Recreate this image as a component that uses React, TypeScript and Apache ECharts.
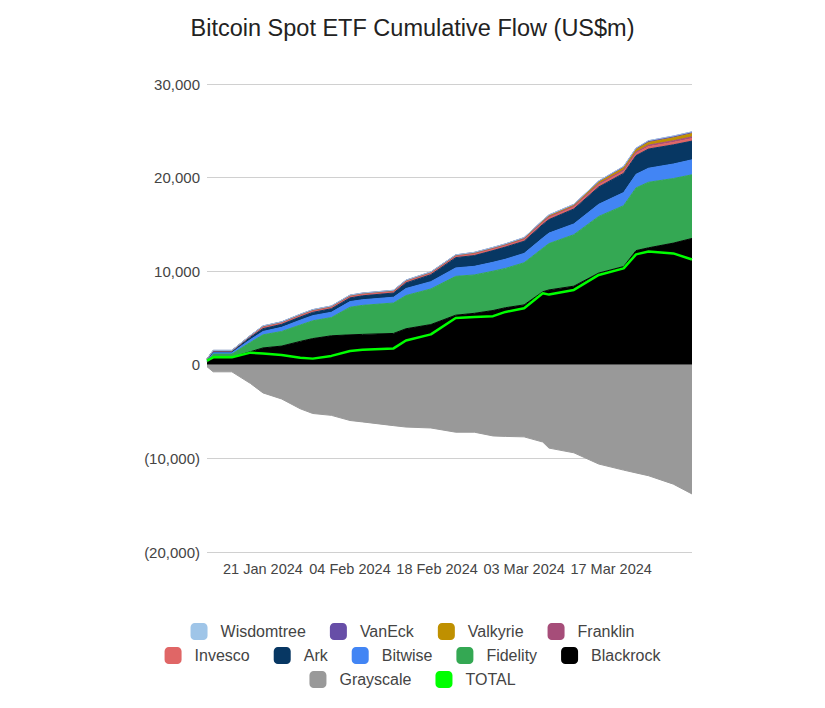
import React, { useEffect, useRef } from "react";
import * as echarts from "echarts";

const dates = [
  "2024-01-12", "2024-01-13", "2024-01-16", "2024-01-19", "2024-01-21", "2024-01-24", "2024-01-27",
  "2024-01-29", "2024-02-01", "2024-02-04", "2024-02-06", "2024-02-11", "2024-02-13", "2024-02-17",
  "2024-02-21", "2024-02-24", "2024-02-27", "2024-02-29", "2024-03-03", "2024-03-06", "2024-03-07",
  "2024-03-11", "2024-03-15", "2024-03-19", "2024-03-21", "2024-03-23", "2024-03-27", "2024-03-30",
];

const blackrock = [250, 800, 800, 1400, 1800, 2000, 2500, 2800, 3100, 3200, 3250, 3350, 3850, 4300, 5300, 5500, 5800, 6100, 6400, 7800, 8000, 8400, 9800, 10500, 12200, 12500, 13000, 13500];
const fidelity = [100, 350, 350, 1000, 1400, 1560, 1750, 1900, 1950, 2950, 3100, 3250, 3550, 3800, 4150, 4100, 4200, 4200, 4500, 4650, 4950, 5500, 6050, 6500, 6700, 7000, 6900, 6800];
const bitwise = [100, 150, 150, 300, 360, 440, 520, 550, 560, 600, 600, 620, 750, 780, 900, 920, 950, 980, 1000, 1100, 1120, 1150, 1300, 1400, 1450, 1500, 1550, 1600];
const ark = [100, 100, 100, 250, 300, 320, 340, 350, 380, 400, 420, 450, 600, 750, 1100, 1150, 1250, 1300, 1300, 1450, 1450, 1600, 1850, 2050, 2000, 2050, 2050, 2000];
const invesco = [60, 90, 90, 130, 190, 180, 190, 190, 190, 190, 190, 190, 190, 190, 190, 200, 200, 200, 210, 210, 220, 220, 230, 240, 250, 260, 270, 270];
const franklin = [10, 20, 20, 30, 40, 40, 40, 40, 40, 40, 40, 40, 40, 40, 40, 50, 50, 50, 60, 70, 80, 80, 110, 130, 140, 160, 170, 190];
const valkyrie = [10, 20, 20, 20, 30, 30, 30, 30, 30, 30, 30, 30, 30, 30, 30, 50, 50, 50, 70, 100, 120, 120, 180, 230, 250, 290, 310, 340];
const vaneck = [10, 10, 10, 10, 30, 20, 30, 30, 30, 30, 30, 30, 30, 30, 30, 40, 40, 40, 50, 60, 70, 70, 110, 130, 140, 170, 180, 180];
const wisdomtree = [10, 10, 10, 10, 10, 10, 10, 10, 10, 10, 10, 10, 10, 10, 10, 10, 10, 10, 10, 10, 10, 10, 20, 20, 20, 20, 20, 20];
const grayscale = [-200, -750, -750, -2000, -3000, -3650, -4700, -5200, -5400, -5950, -6100, -6500, -6650, -6750, -7200, -7200, -7600, -7650, -7700, -8250, -8900, -9400, -10600, -11250, -11550, -11850, -12750, -13800];
const total = [450, 800, 800, 1300, 1200, 1050, 750, 660, 950, 1470, 1600, 1750, 2600, 3250, 5000, 5100, 5200, 5650, 6050, 7650, 7500, 8000, 9600, 10300, 11800, 12100, 11900, 11250];

const tickDates = ["2024-01-21", "2024-02-04", "2024-02-18", "2024-03-03", "2024-03-17"];
const axisStart = "2024-01-12";
const axisEnd = "2024-03-30";

const stackSeries = [
  { name: "Blackrock", data: blackrock, color: "#000000" },
  { name: "Fidelity", data: fidelity, color: "#34a853" },
  { name: "Bitwise", data: bitwise, color: "#4285f4" },
  { name: "Ark", data: ark, color: "#073763" },
  { name: "Invesco", data: invesco, color: "#e06666" },
  { name: "Franklin", data: franklin, color: "#a64d79" },
  { name: "Valkyrie", data: valkyrie, color: "#bf9000" },
  { name: "VanEck", data: vaneck, color: "#674ea7" },
  { name: "Wisdomtree", data: wisdomtree, color: "#9fc5e8" },
];

const legendRows = [
  ["Wisdomtree", "VanEck", "Valkyrie", "Franklin"],
  ["Invesco", "Ark", "Bitwise", "Fidelity", "Blackrock"],
  ["Grayscale", "TOTAL"],
];

const MONTHS = ["Jan", "Feb", "Mar", "Apr", "May", "Jun", "Jul", "Aug", "Sep", "Oct", "Nov", "Dec"];
const ts = (s: string) => new Date(s + "T00:00:00Z").getTime();
const fmtDate = (v: number) => {
  const d = new Date(v);
  const day = String(d.getUTCDate()).padStart(2, "0");
  return `${day} ${MONTHS[d.getUTCMonth()]} ${d.getUTCFullYear()}`;
};
const fmtNum = (v: number) =>
  v < 0 ? `(${Math.abs(v).toLocaleString("en-US")})` : v.toLocaleString("en-US");

const FONT = "'Liberation Sans', Arial, sans-serif";

export default function App() {
  const ref = useRef<HTMLDivElement>(null);
  useEffect(() => {
    if (!ref.current) return;
    const chart = echarts.init(ref.current, undefined, { renderer: "svg" });
    const pts = (arr: number[]) => arr.map((v, i) => [ts(dates[i]), v]);
    const series: any[] = stackSeries.map((s) => ({
      name: s.name,
      type: "line",
      stack: "pos",
      xAxisIndex: 0,
      data: pts(s.data),
      showSymbol: false,
      symbol: "none",
      color: s.color,
      itemStyle: { color: s.color },
      lineStyle: { color: s.color, width: 1 },
      areaStyle: { color: s.color, opacity: 1 },
      emphasis: { disabled: true },
    }));
    series.push({
      name: "Grayscale",
      type: "line",
      xAxisIndex: 0,
      data: pts(grayscale),
      showSymbol: false,
      symbol: "none",
      color: "#999999",
      itemStyle: { color: "#999999" },
      lineStyle: { color: "#999999", width: 1 },
      areaStyle: { color: "#999999", opacity: 1 },
      emphasis: { disabled: true },
    });
    series.push({
      name: "TOTAL",
      type: "line",
      xAxisIndex: 0,
      data: pts(total),
      showSymbol: false,
      symbol: "none",
      color: "#00ff00",
      itemStyle: { color: "#00ff00" },
      lineStyle: { color: "#00ff00", width: 2.5 },
      z: 10,
      emphasis: { disabled: true },
    });
    const legendTops = [623, 647, 671];
    chart.setOption({
      animation: false,
      backgroundColor: "#ffffff",
      title: {
        text: "Bitcoin Spot ETF Cumulative Flow (US$m)",
        left: "center",
        top: 16,
        padding: 0,
        textStyle: { fontSize: 23.5, fontWeight: "normal", color: "#222222", fontFamily: FONT },
      },
      grid: { left: 207, right: 133, top: 84, bottom: 156 },
      legend: legendRows.map((row, i) => ({
        data: row.map((name) => ({ name, icon: "roundRect" })),
        left: "center",
        top: legendTops[i],
        padding: 0,
        itemWidth: 17,
        itemHeight: 17,
        itemGap: 24,
        selectedMode: false,
        textStyle: { fontSize: 16, color: "#444444", fontFamily: FONT, padding: [0, 0, 0, 8] },
      })),
      xAxis: [
        {
          type: "time",
          position: "top",
          min: ts(axisStart),
          max: ts(axisEnd),
          axisLine: { show: false, onZero: false },
          axisTick: { show: false },
          splitLine: { show: false },
          axisLabel: { show: false },
        },
        {
          type: "value",
          position: "bottom",
          min: ts(axisStart),
          max: ts(axisEnd),
          axisLine: { show: false, onZero: false },
          axisTick: { show: false },
          splitLine: { show: false },
          axisLabel: {
            customValues: tickDates.map(ts),
            formatter: (v: number) => fmtDate(v),
            color: "#444444",
            fontSize: 14.5,
            fontFamily: FONT,
            margin: 9,
          },
        },
      ],
      yAxis: {
        type: "value",
        min: -20000,
        max: 30000,
        interval: 10000,
        axisLine: { show: false },
        axisTick: { show: false },
        splitLine: { lineStyle: { color: "#d0d0d0", width: 1 } },
        axisLabel: {
          formatter: (v: number) => fmtNum(v),
          color: "#444444",
          fontSize: 15,
          fontFamily: FONT,
          margin: 7,
        },
      },
      series,
    });
    return () => chart.dispose();
  }, []);
  return (
    <div
      ref={ref}
      style={{ position: "fixed", left: 0, top: 0, width: 825, height: 708, background: "#fff" }}
    />
  );
}
